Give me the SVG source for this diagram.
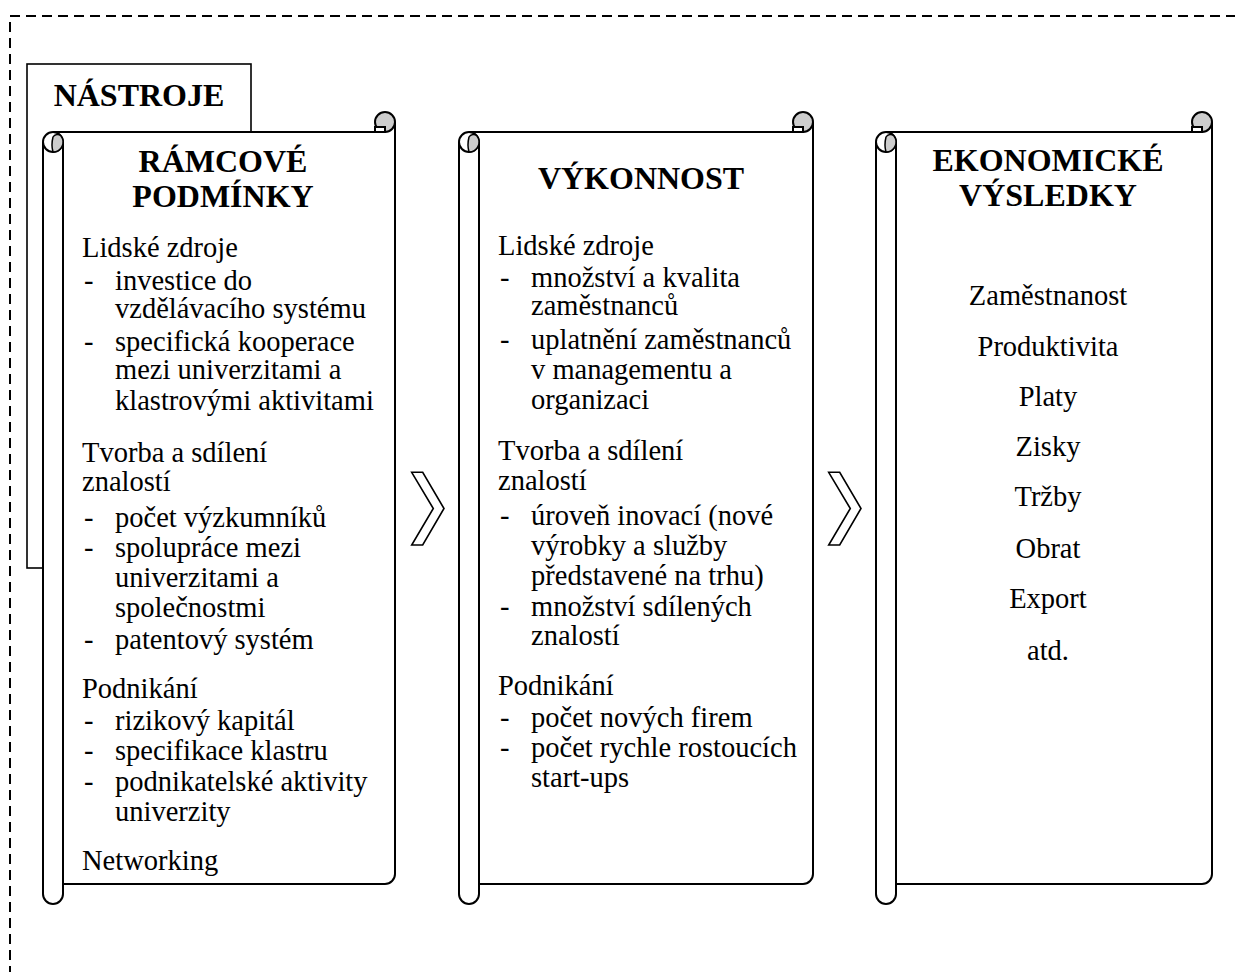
<svg xmlns="http://www.w3.org/2000/svg" width="1235" height="972" viewBox="0 0 1235 972">
<style>
.ln{fill:none;stroke:#000;stroke-width:2}
.wf{fill:#fff;stroke:#000;stroke-width:2}
.gf{fill:#cdcdcd;stroke:#000;stroke-width:2}
.bf{fill:#fff;stroke:none}
.t{font-family:"Liberation Serif","Times New Roman",serif;font-size:28.5px;fill:#000}
.h{font-family:"Liberation Serif","Times New Roman",serif;font-size:32px;font-weight:bold;fill:#000;text-anchor:middle}
.c{text-anchor:middle}
</style>
<rect width="1235" height="972" fill="#fff"/>
<rect id="frame" x="10" y="16" width="1250" height="990" fill="none" stroke="#000" stroke-width="2" stroke-dasharray="10 6"/>
<g id="nastroje">
<rect x="27" y="64" width="224" height="504" fill="#fff" stroke="#000" stroke-width="1.6"/>
<text class="h" x="139" y="106">NÁSTROJE</text>
</g>
<g id="ramcove">
<path class="bf" d="M53,132 H395 V874 A10 10 0 0 1 385,884 H53 Z"/>
<path class="ln" d="M53,132 H385 M395,122 V874 A10 10 0 0 1 385,884 H63"/>
<path class="wf" d="M43,142 V894 A10 10 0 0 0 63,894 V142"/>
<circle class="wf" cx="53" cy="142" r="10"/>
<path fill="#cdcdcd" stroke="#000" stroke-width="1.5" d="M53,152 A10 10 0 0 0 61,136 A5 5 0 0 0 53,137 Q51,145 53,152 Z"/>
<circle class="gf" cx="385" cy="122" r="10"/>
<rect class="wf" x="375" y="127" width="10" height="5" stroke-width="1.5"/>
<text class="h" x="223" y="172">RÁMCOVÉ</text>
<text class="h" x="223" y="207">PODMÍNKY</text>
<text class="t" x="82" y="257">Lidské zdroje</text>
<text class="t" x="84" y="290">-</text><text class="t" x="115" y="290">investice do</text>
<text class="t" x="115" y="318">vzdělávacího systému</text>
<text class="t" x="84" y="351">-</text><text class="t" x="115" y="351">specifická kooperace</text>
<text class="t" x="115" y="379">mezi univerzitami a</text>
<text class="t" x="115" y="410">klastrovými aktivitami</text>
<text class="t" x="82" y="462">Tvorba a sdílení</text>
<text class="t" x="82" y="491">znalostí</text>
<text class="t" x="84" y="527">-</text><text class="t" x="115" y="527">počet výzkumníků</text>
<text class="t" x="84" y="557">-</text><text class="t" x="115" y="557">spolupráce mezi</text>
<text class="t" x="115" y="587">univerzitami a</text>
<text class="t" x="115" y="617">společnostmi</text>
<text class="t" x="84" y="649">-</text><text class="t" x="115" y="649">patentový systém</text>
<text class="t" x="82" y="698">Podnikání</text>
<text class="t" x="84" y="730">-</text><text class="t" x="115" y="730">rizikový kapitál</text>
<text class="t" x="84" y="760">-</text><text class="t" x="115" y="760">specifikace klastru</text>
<text class="t" x="84" y="791">-</text><text class="t" x="115" y="791">podnikatelské aktivity</text>
<text class="t" x="115" y="821">univerzity</text>
<text class="t" x="82" y="870">Networking</text>
</g>
<g id="vykonnost">
<path class="bf" d="M469,132 H813 V874 A10 10 0 0 1 803,884 H469 Z"/>
<path class="ln" d="M469,132 H803 M813,122 V874 A10 10 0 0 1 803,884 H479"/>
<path class="wf" d="M459,142 V894 A10 10 0 0 0 479,894 V142"/>
<circle class="wf" cx="469" cy="142" r="10"/>
<path fill="#cdcdcd" stroke="#000" stroke-width="1.5" d="M469,152 A10 10 0 0 0 477,136 A5 5 0 0 0 469,137 Q467,145 469,152 Z"/>
<circle class="gf" cx="803" cy="122" r="10"/>
<rect class="wf" x="793" y="127" width="10" height="5" stroke-width="1.5"/>
<text class="h" x="641" y="189">VÝKONNOST</text>
<text class="t" x="498" y="255">Lidské zdroje</text>
<text class="t" x="500" y="287">-</text><text class="t" x="531" y="287">množství a kvalita</text>
<text class="t" x="531" y="315">zaměstnanců</text>
<text class="t" x="500" y="349">-</text><text class="t" x="531" y="349">uplatnění zaměstnanců</text>
<text class="t" x="531" y="379">v managementu a</text>
<text class="t" x="531" y="409">organizaci</text>
<text class="t" x="498" y="460">Tvorba a sdílení</text>
<text class="t" x="498" y="490">znalostí</text>
<text class="t" x="500" y="525">-</text><text class="t" x="531" y="525">úroveň inovací (nové</text>
<text class="t" x="531" y="555">výrobky a služby</text>
<text class="t" x="531" y="585">představené na trhu)</text>
<text class="t" x="500" y="616">-</text><text class="t" x="531" y="616">množství sdílených</text>
<text class="t" x="531" y="645">znalostí</text>
<text class="t" x="498" y="695">Podnikání</text>
<text class="t" x="500" y="727">-</text><text class="t" x="531" y="727">počet nových firem</text>
<text class="t" x="500" y="757">-</text><text class="t" x="531" y="757">počet rychle rostoucích</text>
<text class="t" x="531" y="787">start-ups</text>
</g>
<g id="vysledky">
<path class="bf" d="M886,132 H1212 V874 A10 10 0 0 1 1202,884 H886 Z"/>
<path class="ln" d="M886,132 H1202 M1212,122 V874 A10 10 0 0 1 1202,884 H896"/>
<path class="wf" d="M876,142 V894 A10 10 0 0 0 896,894 V142"/>
<circle class="wf" cx="886" cy="142" r="10"/>
<path fill="#cdcdcd" stroke="#000" stroke-width="1.5" d="M886,152 A10 10 0 0 0 894,136 A5 5 0 0 0 886,137 Q884,145 886,152 Z"/>
<circle class="gf" cx="1202" cy="122" r="10"/>
<rect class="wf" x="1192" y="127" width="10" height="5" stroke-width="1.5"/>
<text class="h" x="1048" y="171">EKONOMICKÉ</text>
<text class="h" x="1048" y="206">VÝSLEDKY</text>
<text class="t c" x="1048" y="305">Zaměstnanost</text>
<text class="t c" x="1048" y="356">Produktivita</text>
<text class="t c" x="1048" y="406">Platy</text>
<text class="t c" x="1048" y="456">Zisky</text>
<text class="t c" x="1048" y="506">Tržby</text>
<text class="t c" x="1048" y="558">Obrat</text>
<text class="t c" x="1048" y="608">Export</text>
<text class="t c" x="1048" y="660">atd.</text>
</g>
<g id="connectors" fill="#fff" stroke="#000" stroke-width="1.6" stroke-linejoin="miter">
<path d="M411.7,472.3 H422.7 L444,508.5 L422.7,545 H411.7 L433.3,508.5 Z"/>
<path d="M828.7,472.3 H839.7 L861,508.5 L839.7,545 H828.7 L850.3,508.5 Z"/>
</g>
</svg>
